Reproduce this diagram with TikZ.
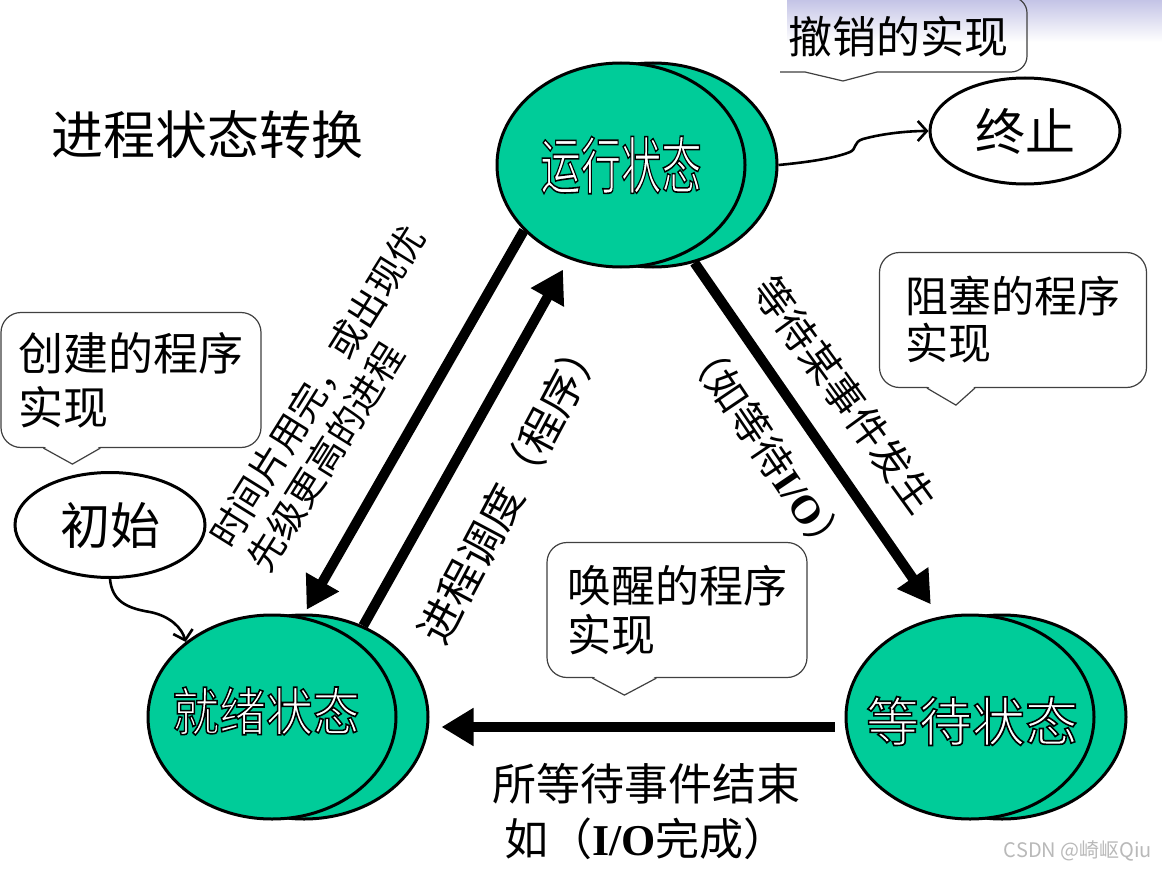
\documentclass[tikz,border=0pt]{standalone}
\usepackage{fontspec}
\setmainfont{Noto Sans CJK SC}
\newfontfamily\tnr{Liberation Serif}
\usetikzlibrary{shapes.geometric,arrows.meta}
\definecolor{stategreen}{RGB}{0,204,153}
\definecolor{lav}{RGB}{196,196,230}
\definecolor{wmgray}{RGB}{185,185,185}
\newcommand{\fsz}[2]{\fontsize{#1}{#2}\selectfont}
\newcommand{\outlinedtext}[4]{%
  \node[#3, text=white] (#1) at #2 {\special{pdf:literal direct 2 Tr 1.6 w 0 0 0 RG}#4\special{pdf:literal direct 0 Tr}};}
\begin{document}
\begin{tikzpicture}[x=1pt,y=-1pt,
  state/.style={ellipse, draw=black, line width=3pt, fill=stategreen, minimum width=248pt, minimum height=204pt, inner sep=0pt},
  oval/.style={ellipse, draw=black, line width=3pt, fill=white, inner sep=0pt},
  bigarrow/.style={line width=10pt, -{Triangle[length=32pt,width=36pt]}},
  thinarrow/.style={line width=2.6pt, -{Straight Barb[length=9pt,width=20pt]}},
  callout/.style={draw=black!75, line width=1.2pt, rounded corners=20pt, fill=white, inner sep=0pt, align=left},
  calloutline/.style={draw=black!75, line width=1.2pt},
  lbl/.style={inner sep=0pt, align=left},
  stxt/.style={inner sep=0pt}
]
\useasboundingbox (0,0) rectangle (1162,872);
\fill[white] (0,0) rectangle (1162,872);
\shade[top color=lav, bottom color=white] (787,0) rectangle (1162,42);

% title
\node[lbl, font=\fsz{52}{60}] (title) at (207,135) {进程状态转换};

% callouts
\node[callout, minimum width=260pt, minimum height=135pt, text width=225pt, font=\fsz{45}{54}] (cCreate) at (131,380) {创建的程序\\实现};
\fill[white] ([xshift=43pt,yshift=2pt]cCreate.south west) -- ([xshift=72pt,yshift=-16pt]cCreate.south west) -- ([xshift=100pt,yshift=2pt]cCreate.south west) -- cycle;
\draw[calloutline] ([xshift=43pt]cCreate.south west) -- ([xshift=72pt,yshift=-16pt]cCreate.south west) -- ([xshift=100pt]cCreate.south west);

\node[callout, minimum width=267pt, minimum height=135pt, text width=215pt, font=\fsz{43}{47}] (cBlock) at (1013,320) {阻塞的程序\\实现};
\fill[white] ([xshift=48pt,yshift=2pt]cBlock.south west) -- ([xshift=77pt,yshift=-17pt]cBlock.south west) -- ([xshift=96pt,yshift=2pt]cBlock.south west) -- cycle;
\draw[calloutline] ([xshift=48pt]cBlock.south west) -- ([xshift=77pt,yshift=-17pt]cBlock.south west) -- ([xshift=96pt]cBlock.south west);

\node[callout, minimum width=260pt, minimum height=135pt, text width=220pt, font=\fsz{44}{49}] (cWake) at (677,610) {唤醒的程序\\实现};
\fill[white] ([xshift=46pt,yshift=2pt]cWake.south west) -- ([xshift=78pt,yshift=-17pt]cWake.south west) -- ([xshift=110pt,yshift=2pt]cWake.south west) -- cycle;
\draw[calloutline] ([xshift=46pt]cWake.south west) -- ([xshift=78pt,yshift=-17pt]cWake.south west) -- ([xshift=110pt]cWake.south west);

\node[lbl, font=\fsz{44}{44}] (cCancel) at (898,37) {撤销的实现};
\draw[calloutline, rounded corners=16pt] (877,72) -- (1027,72) -- (1027,-3) -- (990,-3);
\draw[calloutline] (780,72) -- (805,72) -- (843,81) -- (877,72);

% ovals
\node[oval, minimum width=190pt, minimum height=106pt, font=\fsz{50}{50}] (stop) at (1025,131) {终止};
\node[oval, minimum width=190pt, minimum height=105pt, font=\fsz{50}{50}] (init) at (110,525) {初始};

% states
\node[state] (runB) at (653,165) {};
\node[state] (run) at (621,165) {};
\node[state] (readyB) at (304,717) {};
\node[state] (ready) at (272,717) {};
\node[state] (waitB) at (1002,717) {};
\node[state] (wait) at (970,717) {};

\outlinedtext{runT}{(621,165)}{stxt, font=\fsz{62}{62}}{\scalebox{0.65}[1]{运行状态}}
\outlinedtext{readyT}{(266,711)}{stxt, font=\fsz{52}{52}}{\scalebox{0.9}[1]{就绪状态}}
\outlinedtext{waitT}{(972,721)}{stxt, font=\fsz{53}{53}}{等待状态}

% thin arrows
\draw[thinarrow] (runB.east) .. controls (810,162) and (835,158) .. (850,152) .. controls (857,149) and (853,142) .. (863,139) .. controls (885,133) and (910,131) .. (stop.west);
\draw[thinarrow] (init.south) .. controls (112,600) and (125,608) .. (150,612) .. controls (170,616) and (182,628) .. (ready.139);

% thick arrows
\draw[bigarrow, shorten >=8pt] (run.214) -- (ready.73);
\draw[bigarrow, shorten >=12pt] (readyB.57) -- (run.241);
\draw[bigarrow, shorten >=15pt] (runB.293) -- (wait.107);
\draw[bigarrow, shorten <=10pt, shorten >=12pt] ([yshift=-10pt]wait.west) -- ([yshift=-10pt]readyB.east);

% labels
\node[lbl, rotate=58, font=\fsz{37}{44}] (lblPre) at (336,398) {时间片用完，或出现优\\先级更高的进程};
\node[lbl, rotate=62, font=\fsz{43}{43}] (lblSched) at (511,488) {进程调度（程序）};
\node[lbl, rotate=-54, font=\fsz{40}{40}] (lblBlock) at (845,395) {等待某事件发生};
\node[lbl, rotate=-56, font=\fsz{40}{40}] (lblIO) at (767,448) {（如等待{\tnr\bfseries I/O}）};
\node[lbl, align=center, font=\fsz{44}{55}] (lblWake) at (646,812) {所等待事件结束\\如（{\tnr\bfseries I/O}完成）};

% watermark
\node[lbl, text=wmgray, font=\fsz{20}{20}] (wmark) at (1078,851) {CSDN @崎岖Qiu};
\end{tikzpicture}
\end{document}
